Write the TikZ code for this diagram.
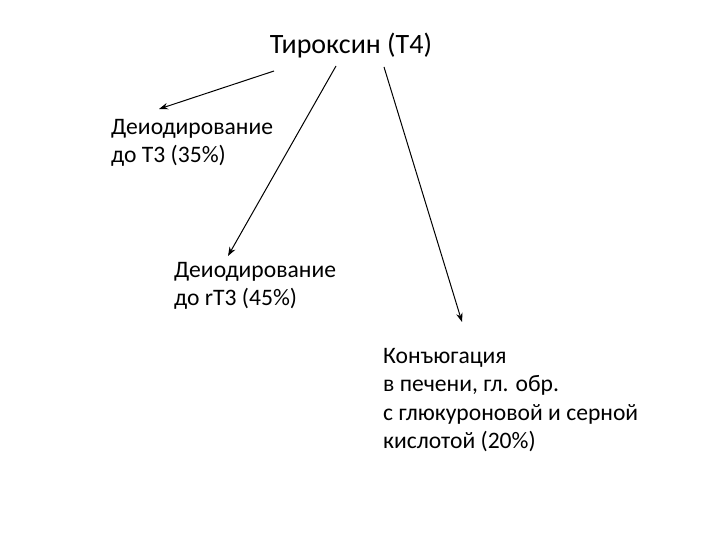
\documentclass[tikz,border=0pt]{standalone}
\usepackage{fontspec}
\setmainfont{Carlito}
\usepackage{tikz}
\usetikzlibrary{positioning,arrows.meta}

\begin{document}
\begin{tikzpicture}[
    x=1pt, y=-1pt,
    lbl/.style={anchor=west, align=left, inner sep=0pt, font=\fontsize{23.6}{28.5}\selectfont},
    title/.style={anchor=center, inner sep=0pt, font=\fontsize{28}{32}\selectfont},
    arrow/.style={-{Stealth[length=9pt,width=6.5pt]}, line width=1pt}
]
\useasboundingbox (0,0) rectangle (720,540);

\node[title] (t4) at (351,46) {Тироксин (Т4)};
\node[lbl] (deio1) at (111,143) {Деиодирование\\до Т3 (35\%)};
\node[lbl] (deio2) at (174,286) {Деиодирование\\до rТ3 (45\%)};
\node[lbl] (conj) at (383,400) {Конъюгация\\в печени, гл. обр.\\с глюкуроновой и серной\\кислотой (20\%)};

% start and end points of the arrows
\coordinate (s1) at (274,71);
\coordinate (s2) at (336,66);
\coordinate (s3) at (384,67);
\coordinate (e1) at (159,109);
\coordinate (e2) at (228,256);
\coordinate (e3) at (462,322);

\draw[arrow] (s1) -- (e1);
\draw[arrow] (s2) -- (e2);
\draw[arrow] (s3) -- (e3);
\end{tikzpicture}
\end{document}
